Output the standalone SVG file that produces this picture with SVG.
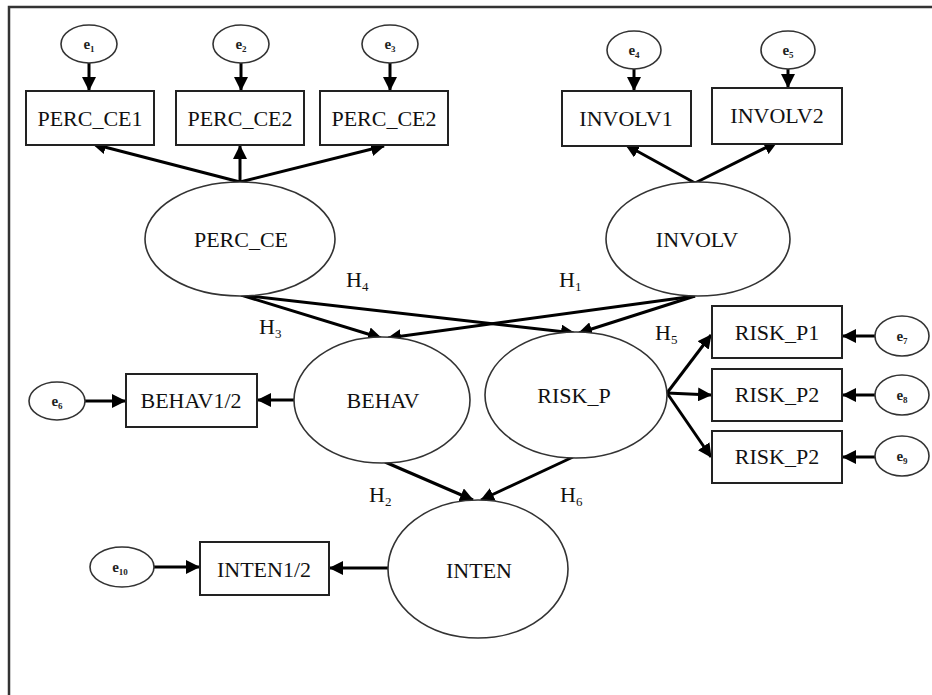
<svg xmlns="http://www.w3.org/2000/svg" width="932" height="695" viewBox="0 0 932 695">
<style>
.lat{fill:#fff;stroke:#333;stroke-width:1.6}
.box{fill:#fff;stroke:#222;stroke-width:2}
.err{fill:#fff;stroke:#333;stroke-width:1.6}
.t{font-family:"Liberation Serif","Times New Roman",serif;font-size:22px;fill:#111;text-anchor:middle}
.te{font-family:"Liberation Serif","Times New Roman",serif;font-size:15px;font-weight:bold;fill:#222;text-anchor:middle}
.th{font-family:"Liberation Serif","Times New Roman",serif;font-size:22px;fill:#111}
.c{stroke:#000;stroke-width:3;fill:none;marker-end:url(#ah)}
.frame{stroke:#333;stroke-width:2.5;fill:none}
</style>
<defs>
<marker id="ah" markerUnits="userSpaceOnUse" markerWidth="14" markerHeight="14" refX="13" refY="7" orient="auto">
<path d="M0,0 L14,7 L0,14 z" fill="#000"/>
</marker>
</defs>
<rect width="932" height="695" fill="#fff"/>
<path class="frame" d="M9,695 L9,7 L932,7"/>

<g id="connectors">
<line class="c" x1="89" y1="63" x2="89" y2="90"/>
<line class="c" x1="241" y1="63" x2="241" y2="90"/>
<line class="c" x1="390" y1="63" x2="390" y2="90"/>
<line class="c" x1="634" y1="69" x2="634" y2="90"/>
<line class="c" x1="788" y1="69" x2="788" y2="87"/>
<line class="c" x1="240" y1="182" x2="93" y2="144"/>
<line class="c" x1="240" y1="182" x2="240" y2="146"/>
<line class="c" x1="240" y1="182" x2="384" y2="146"/>
<line class="c" x1="695" y1="183" x2="626" y2="145"/>
<line class="c" x1="695" y1="183" x2="777" y2="142"/>
<line class="c" x1="241" y1="295" x2="381" y2="338"/>
<line class="c" x1="241" y1="295" x2="574" y2="333"/>
<line class="c" x1="695" y1="296" x2="388" y2="338"/>
<line class="c" x1="695" y1="296" x2="579" y2="333"/>
<line class="c" x1="667" y1="393" x2="711" y2="335"/>
<line class="c" x1="667" y1="393" x2="711" y2="395"/>
<line class="c" x1="667" y1="393" x2="711" y2="457"/>
<line class="c" x1="875" y1="336" x2="843" y2="336"/>
<line class="c" x1="875" y1="395" x2="843" y2="395"/>
<line class="c" x1="875" y1="457" x2="843" y2="457"/>
<line class="c" x1="294" y1="400" x2="258" y2="400"/>
<line class="c" x1="85" y1="401" x2="125" y2="401"/>
<line class="c" x1="385" y1="462" x2="473" y2="500"/>
<line class="c" x1="573" y1="457" x2="481" y2="500"/>
<line class="c" x1="388" y1="568" x2="330" y2="568"/>
<line class="c" x1="154" y1="567" x2="199" y2="567"/>
</g>

<g id="e1"><ellipse class="err" cx="89" cy="44" rx="28" ry="19"/><text class="te" x="89" y="49">e<tspan font-size="9" dy="3">1</tspan></text></g>
<g id="e2"><ellipse class="err" cx="241" cy="44" rx="28" ry="19"/><text class="te" x="241" y="49">e<tspan font-size="9" dy="3">2</tspan></text></g>
<g id="e3"><ellipse class="err" cx="390" cy="44" rx="28" ry="19"/><text class="te" x="390" y="49">e<tspan font-size="9" dy="3">3</tspan></text></g>
<g id="e4"><ellipse class="err" cx="634" cy="50" rx="27" ry="19"/><text class="te" x="634" y="55">e<tspan font-size="9" dy="3">4</tspan></text></g>
<g id="e5"><ellipse class="err" cx="788" cy="50" rx="27" ry="19"/><text class="te" x="788" y="55">e<tspan font-size="9" dy="3">5</tspan></text></g>
<g id="e6"><ellipse class="err" cx="57" cy="401" rx="28" ry="19"/><text class="te" x="57" y="406">e<tspan font-size="9" dy="3">6</tspan></text></g>
<g id="e7"><ellipse class="err" cx="902" cy="336" rx="27" ry="20"/><text class="te" x="902" y="341">e<tspan font-size="9" dy="3">7</tspan></text></g>
<g id="e8"><ellipse class="err" cx="902" cy="395" rx="27" ry="20"/><text class="te" x="902" y="400">e<tspan font-size="9" dy="3">8</tspan></text></g>
<g id="e9"><ellipse class="err" cx="902" cy="456" rx="27" ry="20"/><text class="te" x="902" y="461">e<tspan font-size="9" dy="3">9</tspan></text></g>
<g id="e10"><ellipse class="err" cx="122" cy="567" rx="32" ry="20"/><text class="te" x="120" y="572">e<tspan font-size="9" dy="3">10</tspan></text></g>

<g id="PERC_CE1"><rect class="box" x="26" y="91" width="128" height="54"/><text class="t" x="90" y="126">PERC_CE1</text></g>
<g id="PERC_CE2a"><rect class="box" x="176" y="91" width="128" height="54"/><text class="t" x="240" y="126">PERC_CE2</text></g>
<g id="PERC_CE2b"><rect class="box" x="320" y="91" width="128" height="54"/><text class="t" x="384" y="126">PERC_CE2</text></g>
<g id="INVOLV1"><rect class="box" x="562" y="91" width="129" height="55"/><text class="t" x="626" y="126">INVOLV1</text></g>
<g id="INVOLV2"><rect class="box" x="712" y="88" width="130" height="56"/><text class="t" x="777" y="123">INVOLV2</text></g>
<g id="RISK_P1"><rect class="box" x="712" y="306" width="130" height="52"/><text class="t" x="777" y="340">RISK_P1</text></g>
<g id="RISK_P2a"><rect class="box" x="712" y="369" width="130" height="52"/><text class="t" x="777" y="402">RISK_P2</text></g>
<g id="RISK_P2b"><rect class="box" x="712" y="431" width="130" height="52"/><text class="t" x="777" y="464">RISK_P2</text></g>
<g id="BEHAV12"><rect class="box" x="126" y="374" width="131" height="53"/><text class="t" x="191" y="408">BEHAV1/2</text></g>
<g id="INTEN12"><rect class="box" x="200" y="542" width="129" height="53"/><text class="t" x="264" y="577">INTEN1/2</text></g>

<g id="PERC_CE"><ellipse class="lat" cx="240" cy="239" rx="95" ry="57"/><text class="t" x="241" y="247">PERC_CE</text></g>
<g id="INVOLV"><ellipse class="lat" cx="698" cy="239" rx="92" ry="57"/><text class="t" x="697" y="247">INVOLV</text></g>
<g id="BEHAV"><ellipse class="lat" cx="382" cy="400" rx="88" ry="63"/><text class="t" x="383" y="408">BEHAV</text></g>
<g id="RISK_P"><ellipse class="lat" cx="576" cy="395" rx="91" ry="63"/><text class="t" x="574" y="403">RISK_P</text></g>
<g id="INTEN"><ellipse class="lat" cx="478" cy="569" rx="90" ry="69"/><text class="t" x="479" y="578">INTEN</text></g>

<g id="labels">
<text class="th" x="346" y="287">H<tspan font-size="13" dy="4">4</tspan></text>
<text class="th" x="559" y="287">H<tspan font-size="13" dy="4">1</tspan></text>
<text class="th" x="259" y="334">H<tspan font-size="13" dy="4">3</tspan></text>
<text class="th" x="655" y="340">H<tspan font-size="13" dy="4">5</tspan></text>
<text class="th" x="369" y="502">H<tspan font-size="13" dy="4">2</tspan></text>
<text class="th" x="560" y="502">H<tspan font-size="13" dy="4">6</tspan></text>
</g>
</svg>
